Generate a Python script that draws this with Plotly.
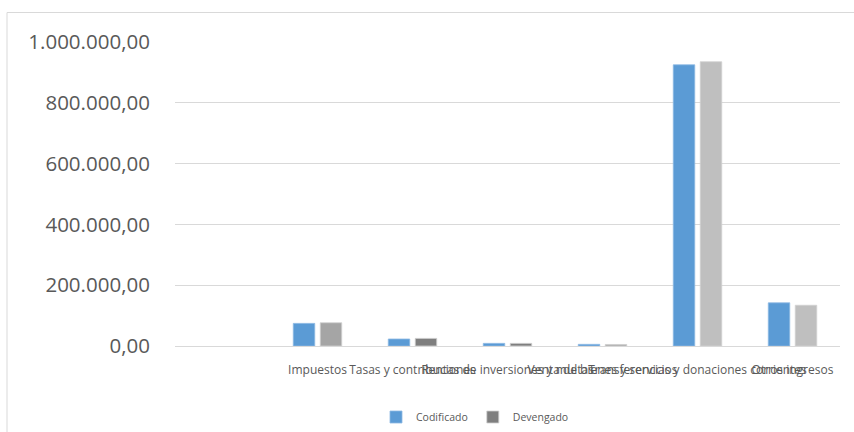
import plotly.graph_objects as go

categories = [" ", "Impuestos", "Tasas y contribuciones", "Rentas de inversiones y multas",
              "Venta de bienes y servicios", "Transferencias y donaciones corrientes", "Otros ingresos"]
codificado = [None, 74400, 23000, 8700, 5500, 925000, 142000]
devengado = [None, 76500, 25000, 8700, 5000, 935000, 134000]
dev_colors = ["#7F7F7F", "#A5A5A5", "#7F7F7F", "#7F7F7F", "#A5A5A5", "#BFBFBF", "#BFBFBF"]
y_ticks = [0, 200000, 400000, 600000, 800000, 1000000]
y_labels = ["0,00", "200.000,00", "400.000,00", "600.000,00", "800.000,00", "1.000.000,00"]

W, H = 854, 432
L, R, T, B = 175, 14, 42, 86
pw, ph = W - L - R, H - T - B

fig = go.Figure()
fig.add_trace(go.Bar(x=categories, y=codificado, name="Codificado",
                     marker=dict(color="#5B9BD5", line=dict(color="#8DB9E3", width=0.8))))
fig.add_trace(go.Bar(x=categories, y=devengado, name="Devengado",
                     marker=dict(color=dev_colors, line=dict(color="#D0D0D0", width=0.8))))

fig.update_layout(
    width=W, height=H,
    margin=dict(l=L, r=R, t=T, b=B, autoexpand=False),
    paper_bgcolor="white", plot_bgcolor="white",
    barmode="group", bargap=0.432, bargroupgap=0.204,
    font=dict(family="Open Sans", color="#595959"),
    showlegend=True,
    legend=dict(orientation="h", xref="container", yref="container",
                x=475 / W, y=1 - 417 / H,
                xanchor="center", yanchor="middle", font=dict(size=10.5, color="#595959"),
                itemwidth=30, tracegroupgap=0),
    xaxis=dict(type="category", showgrid=False, showline=True, linecolor="#D9D9D9", linewidth=1,
               tickangle=0, tickfont=dict(size=12, color="#595959"), ticks="outside",
               ticklen=13, tickcolor="rgba(0,0,0,0)", automargin=False),
    yaxis=dict(range=[0, 1000000], tickvals=y_ticks, ticktext=y_labels, showgrid=True,
               gridcolor="#D9D9D9", gridwidth=1, zeroline=False, showline=False,
               tickfont=dict(size=20.5, color="#595959"), ticks="outside", ticklen=20,
               tickcolor="rgba(0,0,0,0)", automargin=False),
)

# chart area border (top and left edges visible)
x0 = (7 - L) / pw
x1 = (W + 5 - L) / pw
y_top = (T + ph - 12.5) / ph
y_bot = (T + ph - (H + 5)) / ph
fig.add_shape(type="line", xref="paper", yref="paper", x0=x0, x1=x1, y0=y_top, y1=y_top,
              line=dict(color="#D9D9D9", width=1))
fig.add_shape(type="line", xref="paper", yref="paper", x0=x0, x1=x0, y0=y_bot, y1=y_top,
              line=dict(color="#D9D9D9", width=1))

fig.write_html("out.html")
